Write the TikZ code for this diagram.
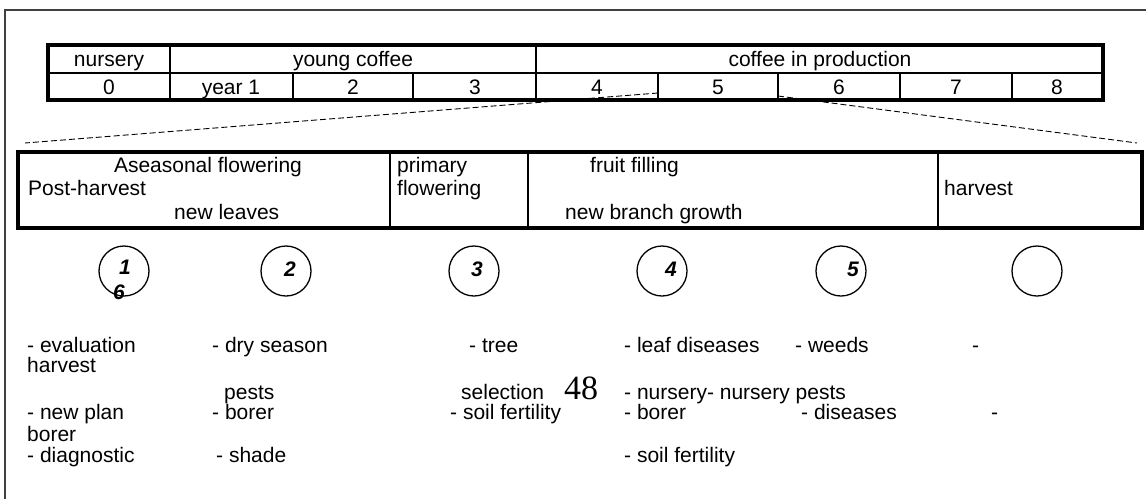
\documentclass[tikz,border=0pt]{standalone}
\usepackage{fontspec}
\setmainfont{Liberation Sans}
\newfontfamily\pagenumfont{Liberation Serif}
\begin{document}
\begin{tikzpicture}[x=1pt,y=-1pt,
  txt/.style={inner sep=0pt, anchor=base west, font=\fontsize{21}{24}\selectfont},
  ctxt/.style={inner sep=0pt, anchor=base, font=\fontsize{21}{24}\selectfont},
  heavy/.style={line width=3.5pt},
  rule/.style={line width=1.3pt},
  zoomline/.style={dash pattern=on 6pt off 3pt, line width=0.9pt},
  stage/.style={circle, draw, line width=1.3pt, minimum size=50pt, inner sep=0pt},
  num/.style={inner sep=0pt, anchor=base, font=\fontsize{21}{24}\selectfont\bfseries\itshape},
]
\useasboundingbox (0,0) rectangle (1146,499);

% page frame (only top and left edges fall inside)
\draw[black!75, line width=1.4pt] (1146,10) -- (5,10) -- (5,499);

% zoom lines from year 5 down to the detail box
\coordinate (y5l) at (658,93);
\coordinate (y5r) at (778,96);
\coordinate (boxl) at (25,143);
\coordinate (boxr) at (1137,143);
\draw[zoomline] (y5l) -- (boxl);
\draw[zoomline] (y5r) -- (boxr);

% year table
\draw[rule] (48,73) -- (1103,73);
\foreach \x in {170,536} \draw[rule] (\x,45) -- (\x,100);
\foreach \x in {293,413,658,778,900,1012} \draw[rule] (\x,73) -- (\x,100);
\draw[heavy] (48,45) rectangle (1103,100);

\node[ctxt] (hNurs) at (109,66) {nursery};
\node[ctxt] (hYoung) at (353,66) {young coffee};
\node[ctxt] (hProd) at (820,66) {coffee in production};
\node[ctxt] (c0) at (109,94) {0};
\node[ctxt] (c1) at (231,94) {year 1};
\node[ctxt] (c2) at (353,94) {2};
\node[ctxt] (c3) at (475,94) {3};
\node[ctxt] (c4) at (597,94) {4};
\node[ctxt] (c5) at (718,94) {5};
\node[ctxt] (c6) at (839,94) {6};
\node[ctxt] (c7) at (956,94) {7};
\node[ctxt] (c8) at (1057,94) {8};

% detail box for one year
\foreach \x in {390,528,938} \draw[rule] (\x,152) -- (\x,228);
\draw[heavy] (18,152) rectangle (1142,228);

\node[ctxt] (pAsea) at (208,172) {Aseasonal flowering};
\node[txt] (pPost) at (28,195) {Post-harvest};
\node[txt] (pLeaves) at (174,219) {new leaves};
\node[txt] (pPrim) at (397,172) {primary};
\node[txt] (pFlow) at (397,195) {flowering};
\node[txt] (pFruit) at (590,172) {fruit filling};
\node[txt] (pBranch) at (565,219) {new branch growth};
\node[txt] (pHarv) at (944,195) {harvest};

% numbered stages
\node[stage] (s1) at (124,271) {};
\node[stage] (s2) at (286,271) {};
\node[stage] (s3) at (474,271) {};
\node[stage] (s4) at (662,271) {};
\node[stage] (s5) at (841,271) {};
\node[stage] (s6) at (1037,271) {};
\node[num] (n1) at (125,274) {1};
\node[num] (n6) at (119,299) {6};
\node[num] (n2) at (290,276) {2};
\node[num] (n3) at (477,276) {3};
\node[num] (n4) at (671,276) {4};
\node[num] (n5) at (853,276) {5};

% topics under each stage
\node[txt] (a1) at (27,352) {- evaluation};
\node[txt] (a2) at (212,352) {- dry season};
\node[txt] (a3) at (469,352) {- tree};
\node[txt] (a4) at (624,352) {- leaf diseases};
\node[txt] (a5) at (795,352) {- weeds};
\node[txt] (a6) at (972,352) {-};

\node[txt] (b1) at (27,372) {harvest};

\node[txt] (c2b) at (224,399) {pests};
\node[txt] (c3b) at (461,399) {selection};
\node[inner sep=0pt, anchor=base west, font=\pagenumfont\fontsize{34}{36}\selectfont] (pg) at (564,399) {48};
\node[txt] (c4b) at (624,399) {- nursery- nursery pests};

\node[txt] (d1) at (27,419) {- new plan};
\node[txt] (d2) at (212,419) {- borer};
\node[txt] (d3) at (450,419) {- soil fertility};
\node[txt] (d4) at (624,419) {- borer};
\node[txt] (d5) at (801,419) {- diseases};
\node[txt] (d6) at (991,419) {-};

\node[txt] (e1) at (27,441) {borer};

\node[txt] (f1) at (27,462) {- diagnostic};
\node[txt] (f2) at (216,462) {- shade};
\node[txt] (f4) at (624,462) {- soil fertility};
\end{tikzpicture}
\end{document}
